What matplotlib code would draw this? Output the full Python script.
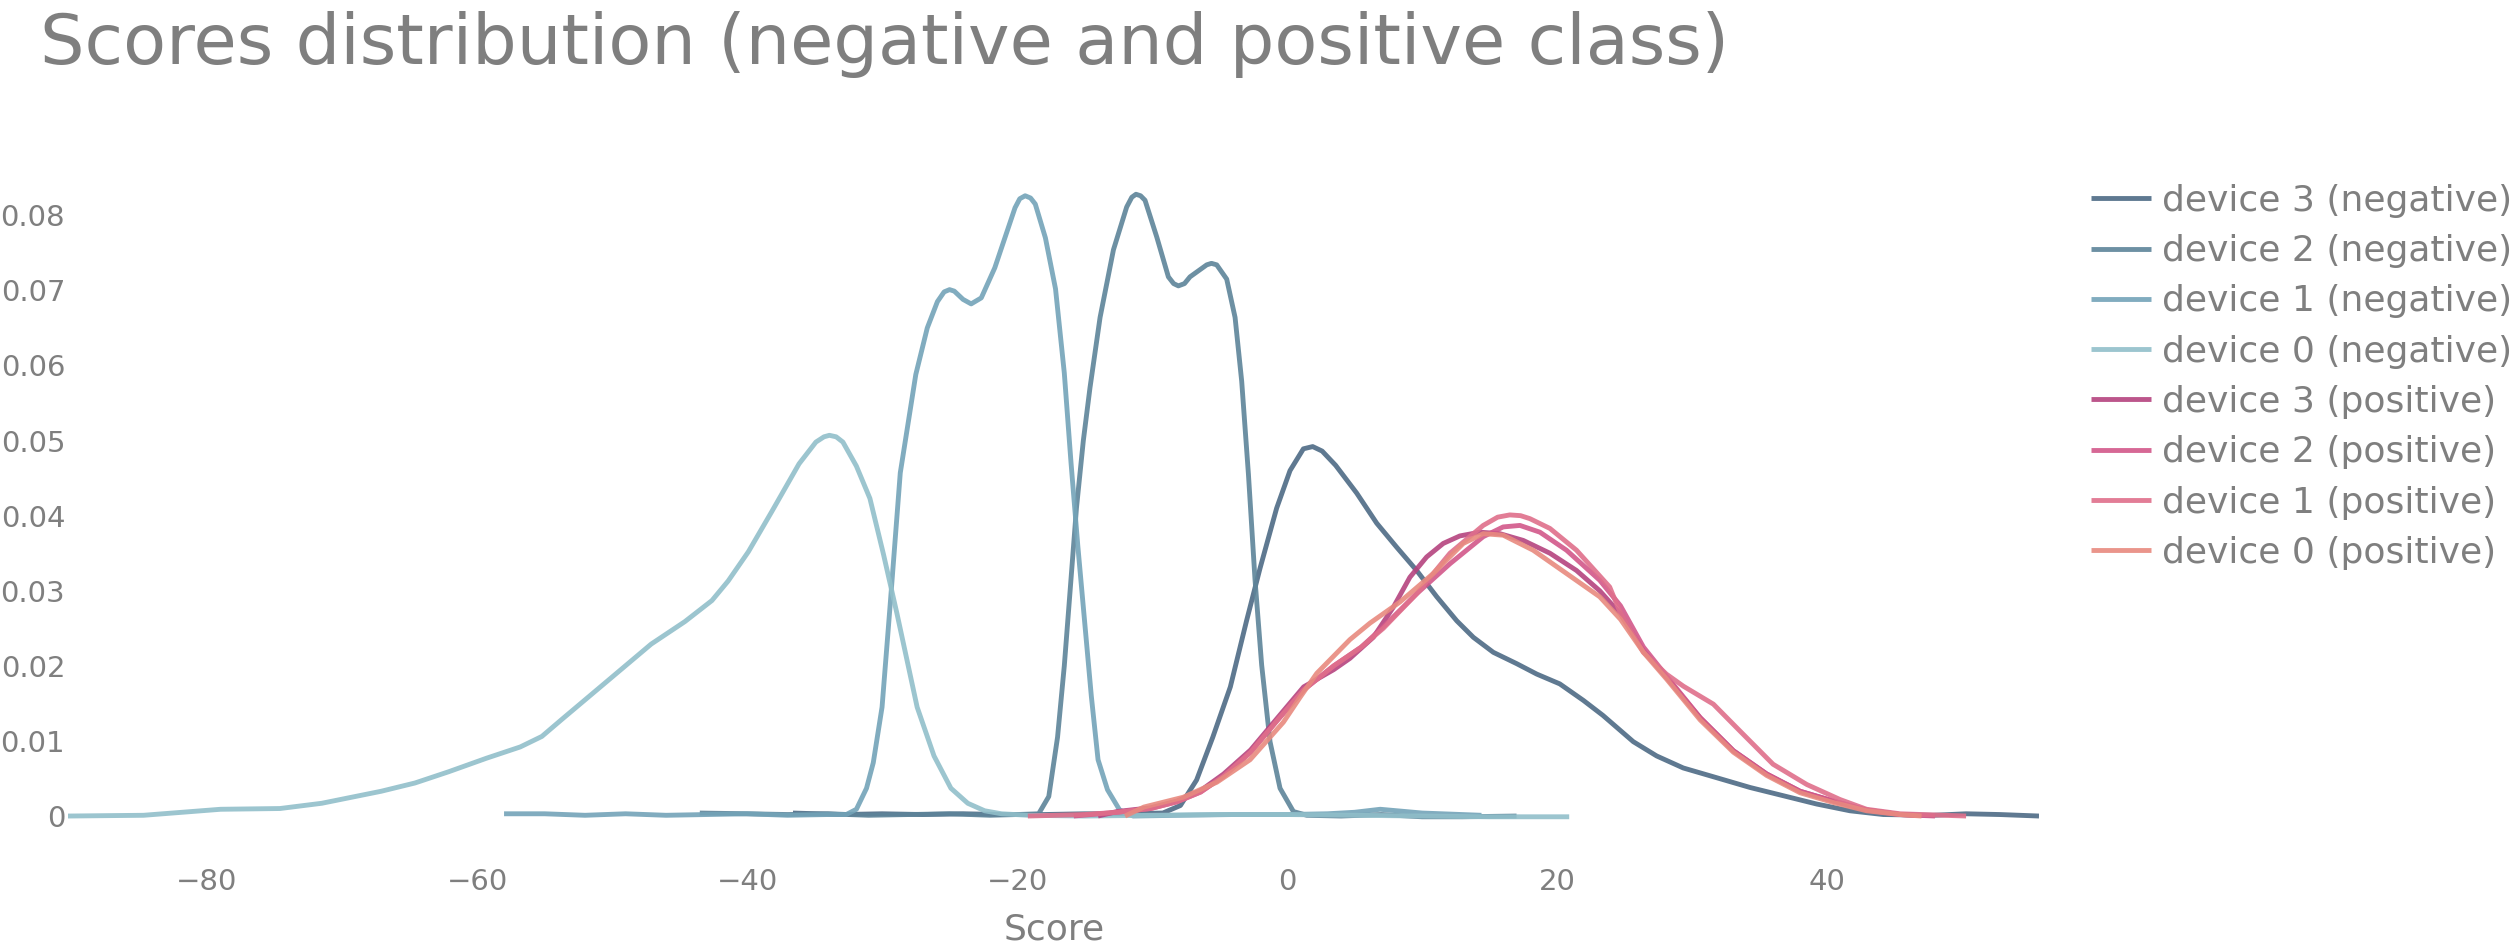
import matplotlib
matplotlib.use("Agg")
import matplotlib.pyplot as plt
from matplotlib.ticker import FixedLocator

# ---- data (score -> density) ----
neg0_x = [-90.3, -84.7, -79.0, -74.6, -71.5, -67.1, -64.6, -62.1, -59.3, -56.8, -55.2, -53.7, -50.2,
          -47.1, -44.6, -42.6, -41.4, -39.9, -38.15, -36.15, -34.9, -34.3, -33.9, -33.4, -32.9,
          -31.9, -30.9, -29.9, -28.9, -27.4, -26.15, -24.9, -23.65, -22.4, -21.15, -19.15, -15, -10,
          -5, 0, 5, 10, 15, 20.9]
neg0_y = [0, 0.0001, 0.0009, 0.001, 0.0017, 0.0033, 0.0044, 0.0059, 0.0077, 0.0092, 0.0106, 0.0129,
          0.0182, 0.0229, 0.0259, 0.0287, 0.0313, 0.0352, 0.0406, 0.0469, 0.0498, 0.0505, 0.0507,
          0.0505, 0.0498, 0.0466, 0.0423, 0.0349, 0.0270, 0.0145, 0.0080, 0.0037, 0.0017, 0.0007,
          0.0003, 0.0001, 0.0, 0.0001, 0.0002, 0.0002, 0.0001, 0.0, -0.0001, -0.0001]

neg1_x = [-58, -55, -52, -49, -46, -43, -40, -37, -34, -32.65, -31.9, -31.15, -30.65, -30.0, -29.4,
          -28.65, -28.0, -27.5, -26.65, -25.9, -25.4, -25.0, -24.65, -24.0, -23.4, -22.65, -21.65,
          -20.15, -19.8, -19.4, -19.0, -18.65, -17.9, -17.15, -16.5, -16.0, -15.5, -15.0, -14.5,
          -14.0, -13.3, -12.4, -11.4, -8, -4, 0, 3, 5, 6.9, 10, 14.4]
neg1_y = [0.0003, 0.0003, 0.0001, 0.0003, 0.0001, 0.0002, 0.0003, 0.0001, 0.0002, 0.0002, 0.0009,
          0.0037, 0.0071, 0.0145, 0.0281, 0.0457, 0.0531, 0.0588, 0.065, 0.0685, 0.0698, 0.0701,
          0.0699, 0.0688, 0.0682, 0.069, 0.073, 0.081, 0.0822, 0.0826, 0.0823, 0.0815, 0.077,
          0.0702, 0.059, 0.047, 0.036, 0.026, 0.016, 0.0075, 0.0035, 0.0008, 0.0, 0.0001, 0.0002,
          0.0002, 0.0003, 0.0005, 0.0009, 0.0004, 0.0001]

neg2_x = [-43.5, -40, -37, -34, -31, -28, -25, -22, -20, -18.4, -17.65, -17.0, -16.5, -16.07, -15.6,
          -15.09, -14.6, -13.85, -12.86, -11.88, -11.5, -11.19, -10.85, -10.52, -9.65, -8.79, -8.4,
          -8.05, -7.6, -7.19, -5.95, -5.6, -5.21, -4.47, -3.85, -3.36, -2.86, -2.37, -1.88, -1.26,
          -0.52, 0.47, 1.46, 4, 7, 10, 13, 17.0]
neg2_y = [0.0004, 0.0003, 0.0002, 0.0003, 0.0001, 0.0002, 0.0003, 0.0001, 0.0002, 0.0003, 0.0026,
          0.0105, 0.020, 0.030, 0.041, 0.050, 0.057, 0.0664, 0.0754, 0.0811, 0.0824, 0.0828, 0.0826,
          0.082, 0.0771, 0.0718, 0.0709, 0.0706, 0.0709, 0.0718, 0.0734, 0.0736, 0.0734, 0.0715,
          0.0664, 0.0579, 0.0455, 0.0314, 0.0201, 0.0099, 0.0037, 0.0006, 0.0001, 0.0, 0.0002,
          -0.0001, -0.0001, 0.0]

neg3_x = [-36.6, -33, -30, -27, -24, -21, -18, -15, -12, -9.2, -7.9, -6.7, -5.5, -4.2, -3.0, -2.0,
          -0.77, 0.22, 1.21, 1.9, 2.6, 3.6, 5.16, 6.64, 8.12, 9.6, 11.09, 12.57, 13.8, 15.28, 17.0,
          18.5, 20.2, 21.95, 23.4, 25.65, 27.38, 29.35, 31.83, 34.3, 36.77, 39.23, 41.7, 44.17,
          47.87, 50.3, 52.8, 55.7]
neg3_y = [0.0004, 0.0002, 0.0003, 0.0002, 0.0003, 0.0002, 0.0002, 0.0003, 0.0003, 0.0004, 0.0014,
          0.0048, 0.0105, 0.0172, 0.026, 0.033, 0.041, 0.046, 0.0489, 0.0492, 0.0486, 0.0467,
          0.043, 0.039, 0.0358, 0.0327, 0.0292, 0.026, 0.0238, 0.0218, 0.0203, 0.0189, 0.0176,
          0.0154, 0.0134, 0.0099, 0.0080, 0.0064, 0.0051, 0.0038, 0.0027, 0.0016, 0.0007, 0.0002,
          0.0001, 0.0003, 0.0002, 0.0]

pos3_x = [-14, -12.6, -10.1, -8.15, -6.4, -4.7, -2.7, -0.74, 1.23, 3.46, 4.66, 6.39, 7.87, 9.1,
          10.34, 11.57, 12.8, 14.28, 15.77, 17.5, 19.47, 21.44, 23.16, 24.7, 26.4, 28.13, 30.6,
          33.06, 35.53, 38.0, 40.46, 42.93, 45.4, 46.5]
pos3_y = [0, 0.0006, 0.0011, 0.002, 0.0034, 0.0056, 0.0088, 0.013, 0.0172, 0.0195, 0.0210, 0.0238,
          0.0278, 0.0318, 0.0345, 0.0363, 0.0373, 0.0378, 0.0376, 0.0367, 0.035, 0.0327, 0.030,
          0.0269, 0.022, 0.0184, 0.0131, 0.0087, 0.0056, 0.0033, 0.002, 0.0008, 0.0002, 0.0001]

pos2_x = [-15.8, -12.6, -10.1, -8.15, -6.4, -4.7, -2.7, -0.74, 1.23, 3.46, 5.5, 7.13, 9.6, 12.07,
          14.53, 16.01, 17.25, 18.73, 20.7, 23.16, 24.7, 26.4, 28.13, 30.6, 33.06, 35.53, 38.0,
          40.46, 42.93, 45.4, 48]
pos2_y = [0, 0.0005, 0.001, 0.0019, 0.0032, 0.0053, 0.0085, 0.0127, 0.0168, 0.0200, 0.0225, 0.0252,
          0.0296, 0.0336, 0.0372, 0.0385, 0.0387, 0.0378, 0.0354, 0.0314, 0.0280, 0.0225, 0.0186,
          0.0131, 0.0087, 0.0056, 0.0033, 0.002, 0.0008, 0.0002, 0.0]

pos1_x = [-19.2, -15, -12.6, -10.1, -8.15, -6.4, -4.7, -2.7, -0.74, 1.23, 3.46, 5.5, 7.13, 9.6,
          12.07, 14.53, 15.6, 16.5, 17.3, 17.99, 19.47, 21.44, 23.9, 24.7, 26.4, 28.1, 29.35, 31.58,
          33.56, 36.0, 38.5, 40.96, 42.93, 45.4, 50.3]
pos1_y = [0, 0.0002, 0.0005, 0.001, 0.0019, 0.0032, 0.0053, 0.0085, 0.0127, 0.0168, 0.0200, 0.0225,
          0.0250, 0.0296, 0.035, 0.0387, 0.0398, 0.0401, 0.0400, 0.0396, 0.0383, 0.0354, 0.0305,
          0.027, 0.0218, 0.0189, 0.0173, 0.0149, 0.0113, 0.0069, 0.0042, 0.0022, 0.0009, 0.0003,
          0.0]

pos0_x = [-12, -10.6, -7.7, -5.2, -2.74, -0.27, 0.96, 2.2, 4.66, 6.15, 8.36, 10.83, 13.05, 14.53,
          16.01, 18.23, 20.7, 23.16, 24.7, 26.4, 28.13, 30.6, 33.06, 35.53, 38.0, 40.46, 42.93,
          45.4, 47]
pos0_y = [0, 0.0012, 0.0025, 0.0045, 0.0075, 0.0125, 0.0158, 0.019, 0.0235, 0.0257, 0.0285, 0.0323,
          0.0363, 0.0376, 0.0374, 0.0354, 0.0323, 0.0292, 0.0262, 0.0218, 0.0182, 0.0128, 0.0085,
          0.0054, 0.0031, 0.0018, 0.0007, 0.0002, 0.0]

series = [
    ("device 3 (negative)", neg3_x, neg3_y, "#4d6b85"),
    ("device 2 (negative)", neg2_x, neg2_y, "#5d8499"),
    ("device 1 (negative)", neg1_x, neg1_y, "#73a3b8"),
    ("device 0 (negative)", neg0_x, neg0_y, "#91bfca"),
    ("device 3 (positive)", pos3_x, pos3_y, "#b5437f"),
    ("device 2 (positive)", pos2_x, pos2_y, "#d2578a"),
    ("device 1 (positive)", pos1_x, pos1_y, "#df6f8b"),
    ("device 0 (positive)", pos0_x, pos0_y, "#e88a7f"),
]
x_ticks = [-80, -60, -40, -20, 0, 20, 40]
y_ticks = [0, 0.01, 0.02, 0.03, 0.04, 0.05, 0.06, 0.07, 0.08]
y_labels = ["0", "0.01", "0.02", "0.03", "0.04", "0.05", "0.06", "0.07", "0.08"]

GREY = "#7f7f7f"
plt.rcParams["font.family"] = ["DejaVu Sans"]

W, H = 2512, 952
fig = plt.figure(figsize=(W / 100, H / 100), dpi=100)
ax = fig.add_axes([68 / W, 0.1231, (2039 - 68) / W, 0.6902])

for name, xs, ys, col in series:
    ax.plot(xs, ys, color=col, linewidth=3.5, alpha=0.9, label=name,
            solid_capstyle="butt", solid_joinstyle="round")

ax.set_xlim(-90.3, 55.7)
ax.set_ylim(-0.0025, 0.085)
for s in ax.spines.values():
    s.set_visible(False)
ax.xaxis.set_major_locator(FixedLocator(x_ticks))
ax.set_yticks(y_ticks)
ax.set_yticklabels(y_labels)
ax.tick_params(axis="both", length=0, labelsize=21, labelcolor=GREY)
ax.tick_params(axis="x", pad=24)
ax.tick_params(axis="y", pad=2)

fig.text(1054 / W, 1 - 929 / H, "Score", ha="center", va="center", fontsize=26, color=GREY)
fig.text(40 / W, 1 - 64 / H, "Scores distribution (negative and positive class)",
         ha="left", va="baseline", fontsize=50.6, color=GREY)

leg = ax.legend(loc="upper left", bbox_to_anchor=(2091 / W, 1 - 184 / H),
                bbox_transform=fig.transFigure, frameon=False, fontsize=26,
                handlelength=1.66, handletextpad=0.3, labelspacing=0.45,
                borderpad=0, borderaxespad=0)
for t in leg.get_texts():
    t.set_color(GREY)

fig.savefig("out.png", dpi=100, facecolor="white")
